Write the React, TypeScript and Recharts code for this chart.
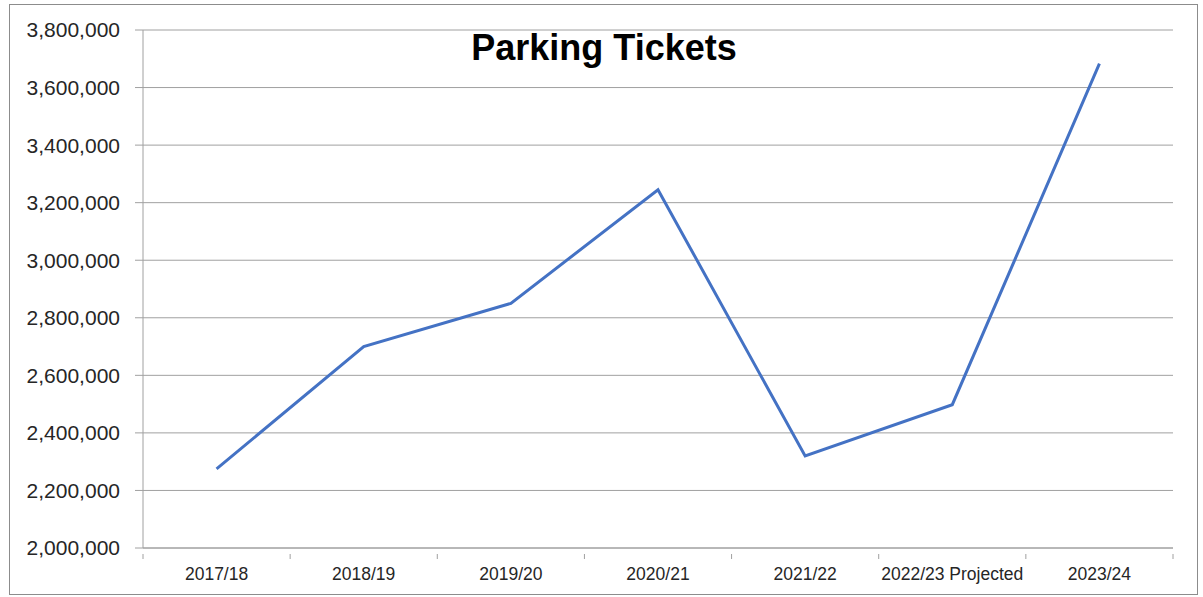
import React from "react";
import { LineChart, Line, XAxis, YAxis, CartesianGrid } from "recharts";

const years = ["2017/18", "2018/19", "2019/20", "2020/21", "2021/22", "2022/23 Projected", "2023/24"];
const tickets = [2275000, 2700000, 2850000, 3245000, 2320000, 2498000, 3683000];
const yTicks = [2000000, 2200000, 2400000, 2600000, 2800000, 3000000, 3200000, 3400000, 3600000, 3800000];

const data = years.map((name, i) => ({ name, tickets: tickets[i] }));

const W = 1203;
const H = 597;
const M = { top: 30, right: 30, left: 0, bottom: 19 };
const Y_W = 143;
const BAND = (W - M.left - Y_W - M.right) / years.length;
const GRID = "#a0a0a0";
const FONT = "'Liberation Sans', Arial, sans-serif";

// labels centred in each category, tick marks on the category borders (Excel style)
function CategoryTick(props: any) {
  const { x, y, payload, index } = props;
  const half = BAND / 2;
  const axisY = y - 14;
  return (
    <g>
      <line x1={x - half} x2={x - half} y1={axisY} y2={axisY + 5} stroke={GRID} />
      {index === years.length - 1 && (
        <line x1={x + half} x2={x + half} y1={axisY} y2={axisY + 5} stroke={GRID} />
      )}
      <text x={x} y={y} dy="0.71em" textAnchor="middle" fill="#262626" fontSize={17.5} fontFamily={FONT}>
        {payload.value}
      </text>
    </g>
  );
}

export default function App() {
  return (
    <div style={{ position: "absolute", left: 0, top: 0, width: W, height: H, background: "#fff" }}>
      <div
        style={{
          position: "absolute",
          left: 9,
          top: 4,
          width: 1189,
          height: 591,
          border: "1px solid #8c8c8c",
          boxSizing: "border-box",
        }}
      />
      <LineChart width={W} height={H} data={data} margin={M}>
        <CartesianGrid vertical={false} stroke={GRID} strokeWidth={1} />
        <XAxis
          dataKey="name"
          height={30}
          padding={{ left: BAND / 2, right: BAND / 2 }}
          axisLine={{ stroke: GRID }}
          tickLine={false}
          tickMargin={14}
          tick={<CategoryTick />}
          interval={0}
        />
        <YAxis
          width={Y_W}
          domain={[2000000, 3800000]}
          ticks={yTicks}
          allowDataOverflow
          axisLine={{ stroke: GRID }}
          tickLine={{ stroke: GRID }}
          tickSize={8}
          tickMargin={15}
          tickFormatter={(v: number) => v.toLocaleString("en-US")}
          tick={{ fill: "#262626", fontSize: 21, fontFamily: FONT }}
        />
        <Line
          type="linear"
          dataKey="tickets"
          stroke="#4472C4"
          strokeWidth={3}
          dot={false}
          activeDot={false}
          isAnimationActive={false}
        />
      </LineChart>
      <div
        style={{
          position: "absolute",
          left: 0,
          top: 30,
          width: 1208,
          textAlign: "center",
          fontFamily: FONT,
          fontWeight: "bold",
          fontSize: 36,
          lineHeight: "36px",
          color: "#000",
        }}
      >
        Parking Tickets
      </div>
    </div>
  );
}
